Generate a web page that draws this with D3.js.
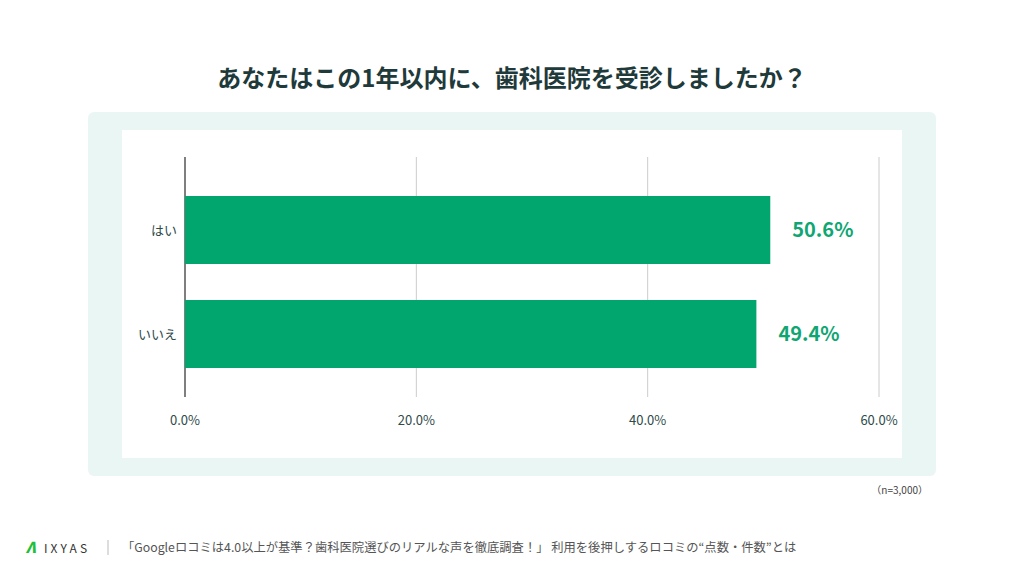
<!DOCTYPE html><html><head><meta charset="utf-8"><script src="https://cdn.jsdelivr.net/npm/d3@7"></script>
<style>body{margin:0;background:#fff}svg{display:block;font-family:"Noto Sans CJK JP","Noto Sans",sans-serif}</style></head><body><svg width="1024" height="576"></svg>
<script>
const categories=["はい","いいえ"];
const values=[50.6,49.4];
const ticks=[0,20,40,60];
const svg=d3.select("svg");
svg.append("text").attr("x",512).attr("y",87).attr("text-anchor","middle").attr("font-size",24).attr("font-weight",700).attr("fill","#1f3a3a").text("あなたはこの1年以内に、歯科医院を受診しましたか？");
svg.append("rect").attr("x",88).attr("y",112).attr("width",848).attr("height",364).attr("rx",6).attr("fill","#e9f6f4");
svg.append("rect").attr("x",122).attr("y",130).attr("width",780).attr("height",328).attr("fill","#fff");
const x=d3.scaleLinear().domain([0,60]).range([185,879]);
const y=d3.scaleBand().domain(categories).range([178,386]).paddingInner(36/104).paddingOuter(18/104);
ticks.forEach(t=>{
 svg.append("line").attr("x1",x(t)).attr("x2",x(t)).attr("y1",157).attr("y2",397).attr("stroke",t===0?"#555":"#ccc").attr("stroke-width",t===0?1.5:1);
 svg.append("text").attr("x",x(t)).attr("y",425).attr("text-anchor","middle").attr("font-size",13).attr("fill","#2f4a4a").text(d3.format(".1f")(t)+"%");
});
categories.forEach((c,i)=>{
 svg.append("rect").attr("x",x(0)).attr("y",y(c)).attr("width",x(values[i])-x(0)).attr("height",y.bandwidth()).attr("fill","#00a66e");
 svg.append("text").attr("x",x(0)-8).attr("y",y(c)+y.bandwidth()/2+5).attr("text-anchor","end").attr("font-size",13).attr("fill","#2f4a4a").text(c);
 svg.append("text").attr("x",x(values[i])+22).attr("y",y(c)+y.bandwidth()/2+7).attr("font-size",20).attr("font-weight",700).attr("fill","#10a672").text(values[i].toFixed(1)+"%");
});
svg.append("text").attr("x",928).attr("y",494).attr("text-anchor","end").attr("font-size",10).attr("fill","#444").text("（n=3,000）");
svg.append("text").attr("x",26).attr("y",553).attr("font-size",15).attr("font-weight",900).attr("font-style","italic").attr("fill","#1fbf3a").text("Λ");
svg.append("text").attr("x",44).attr("y",553).attr("font-size",12).attr("letter-spacing",3).attr("fill","#333").text("IXYAS");
svg.append("line").attr("x1",108).attr("x2",108).attr("y1",540).attr("y2",555).attr("stroke","#bbb");
svg.append("text").attr("x",122).attr("y",552).attr("font-size",12.3).attr("fill","#555").text("「Googleロコミは4.0以上が基準？歯科医院選びのリアルな声を徹底調査！」 利用を後押しするロコミの“点数・件数”とは");
</script></body></html>
